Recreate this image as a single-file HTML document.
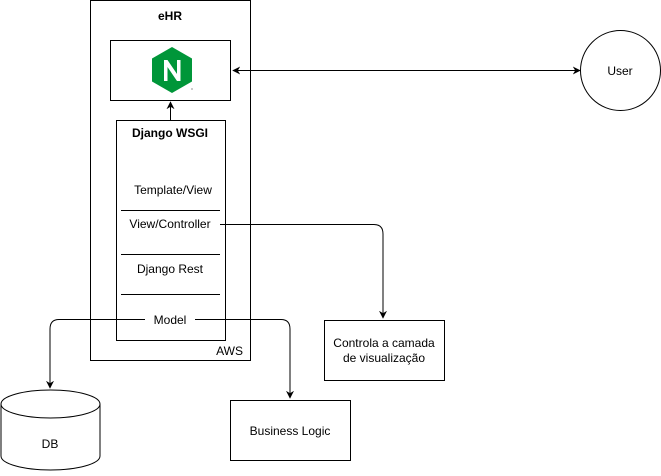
<!DOCTYPE html>
<html><head><meta charset="utf-8"><style>
body{margin:0;background:#fff}
svg text{font-family:"Liberation Sans",Arial,sans-serif;font-size:12px;fill:#000}
</style></head><body>
<svg width="661" height="471" viewBox="0 0 661 471" xmlns="http://www.w3.org/2000/svg">
<defs>
<marker id="a" viewBox="0 0 10 10" refX="9" refY="5" markerWidth="8" markerHeight="8" orient="auto-start-reverse" markerUnits="userSpaceOnUse"><path d="M0,0 L10,5 L0,10 L3,5 z" fill="#000"/></marker>
</defs>
<g fill="none" stroke="#000" stroke-width="1">
<rect x="90.5" y="0.5" width="160" height="360"/>
<rect x="110.5" y="40.5" width="120" height="60"/>
<rect x="116.5" y="120.5" width="109" height="220"/>
<line x1="121" y1="210.5" x2="220" y2="210.5"/>
<line x1="121" y1="254.5" x2="220" y2="254.5"/>
<line x1="121" y1="294.5" x2="220" y2="294.5"/>
<line x1="170.5" y1="120" x2="170.5" y2="102" marker-end="url(#a)"/>
<line x1="233" y1="70.5" x2="580" y2="70.5" marker-start="url(#a)" marker-end="url(#a)"/>
<circle cx="620.5" cy="70.5" r="40"/>
<path d="M220,224.5 H374 Q383,224.5 383,234 V318" marker-end="url(#a)"/>
<rect x="324.5" y="320.5" width="120" height="60"/>
<path d="M145,319.5 H59 Q50,319.5 50,329 V388" marker-end="url(#a)"/>
<path d="M195,319.5 H281 Q290,319.5 290,329 V398" marker-end="url(#a)"/>
<rect x="230.5" y="400.5" width="120" height="60"/>
<path d="M1,404 A49.5,14 0 0 1 100,404 V456 A49.5,14 0 0 1 1,456 Z" fill="#fff"/>
<path d="M1,404 A49.5,14 0 0 0 100,404"/>
</g>
<path d="M172,47 L192,58.5 V81.5 L172,93 L152,81.5 V58.5 Z" fill="#009639"/>
<path d="M164,81 V60 h3.5 L177,74 V60 h3.5 V81 h-3.5 L167.5,67 V81 Z" fill="#fff"/>
<circle cx="192" cy="89" r="1" fill="#bbb"/>
<text x="170" y="20" text-anchor="middle" font-weight="bold">eHR</text>
<text x="170" y="137" text-anchor="middle" font-weight="bold">Django WSGI</text>
<text x="173" y="194" text-anchor="middle">Template/View</text>
<text x="170" y="228" text-anchor="middle">View/Controller</text>
<text x="170" y="273" text-anchor="middle">Django Rest</text>
<text x="170" y="324" text-anchor="middle">Model</text>
<text x="243" y="355" text-anchor="end">AWS</text>
<text x="620" y="75" text-anchor="middle">User</text>
<text x="384" y="347" text-anchor="middle">Controla a camada</text>
<text x="384" y="362" text-anchor="middle">de visualização</text>
<text x="290" y="435" text-anchor="middle">Business Logic</text>
<text x="50" y="448" text-anchor="middle">DB</text>
</svg>
</body></html>
